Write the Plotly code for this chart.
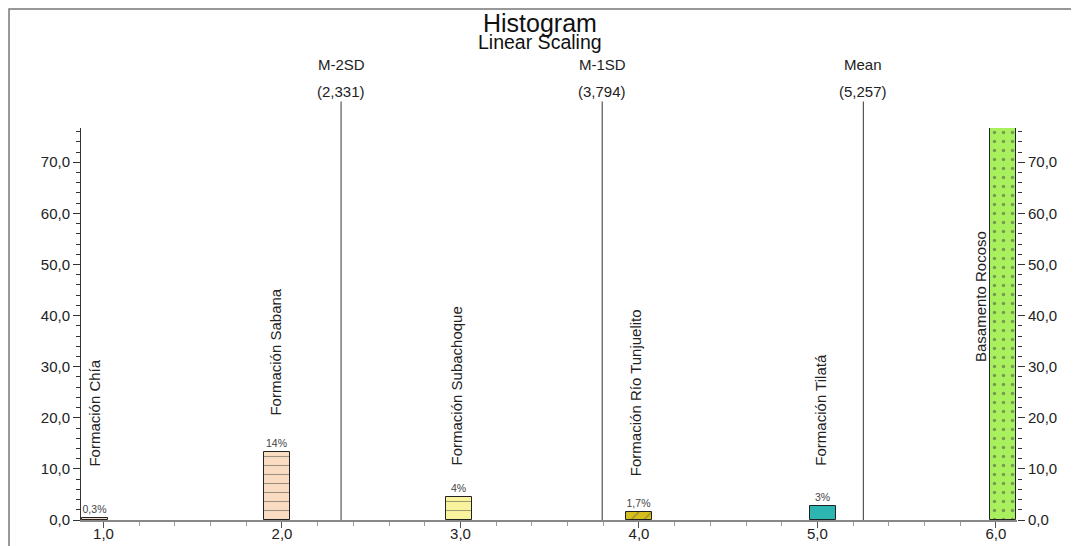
import plotly.graph_objects as go

# ---- data ----
bin_centers = [0.95, 1.97, 2.99, 4.0, 5.03, 6.04]
percent_values = [0.3, 13.3, 4.5, 1.5, 2.8, 77.2]
percent_labels = ["0,3%", "14%", "4%", "1,7%", "3%", "77%"]
unit_names = ["Formación Chía", "Formación Sabana", "Formación Subachoque",
              "Formación Río Tunjuelito", "Formación Tilatá", "Basamento Rocoso"]
stat_names = ["M-2SD", "M-1SD", "Mean"]
stat_values = [2.331, 3.794, 5.257]
stat_labels = ["(2,331)", "(3,794)", "(5,257)"]

# ---- styles ----
bar_colors = ["#F2D8C0", "#F9DCC2", "#FAF39E", "#D6BE1C", "#2DB5B2", "#A9F05E"]
bar_patterns = ["", "-", "-", "/", "", "."]
name_pos_x = [0.952, 1.965, 2.98, 3.98, 5.02, 5.91]
name_pos_y = [21.0, 32.9, 26.3, 24.9, 21.6, 43.8]

FONT = "Liberation Sans, Arial, sans-serif"

fig = go.Figure()
fig.add_trace(go.Bar(
    x=bin_centers, y=percent_values, width=0.146,
    marker=dict(color=bar_colors, line=dict(color="#222222", width=1),
                pattern=dict(shape=bar_patterns, fgcolor="#222222", size=9, solidity=0.12)),
    text=percent_labels, textposition="outside",
    textfont=dict(size=10.5, color="#444444", family=FONT),
    cliponaxis=False, showlegend=False,
))
# invisible trace for right axis
fig.add_trace(go.Scatter(x=[bin_centers[0]], y=[0], yaxis="y2", mode="markers",
                         marker=dict(opacity=0), showlegend=False, hoverinfo="skip"))

shapes = []
annotations = []
for name, val, lab in zip(stat_names, stat_values, stat_labels):
    shapes.append(dict(type="line", xref="x", yref="paper", x0=val, x1=val,
                       y0=0, y1=1.084, line=dict(color="#333333", width=1)))
    annotations.append(dict(x=val, y=1.1614, xref="x", yref="paper", text=name,
                            xanchor="center", yanchor="middle",
                            showarrow=False, font=dict(size=15, color="#222222", family=FONT)))
    annotations.append(dict(x=val, y=1.0925, xref="x", yref="paper", text=lab,
                            xanchor="center", yanchor="middle", bgcolor="white",
                            showarrow=False, font=dict(size=15, color="#222222", family=FONT)))

for nm, px, py in zip(unit_names, name_pos_x, name_pos_y):
    annotations.append(dict(x=px, y=py, xref="x", yref="y", text=nm, textangle=-90,
                            xanchor="center", yanchor="middle",
                            showarrow=False, font=dict(size=15, color="#222222", family=FONT)))

annotations.append(dict(x=0.49, y=1.2685, xref="paper", yref="paper", text="Histogram",
                        xanchor="center", yanchor="middle",
                        showarrow=False, font=dict(size=25, color="#111111", family=FONT)))
annotations.append(dict(x=0.49, y=1.219, xref="paper", yref="paper", text="Linear Scaling",
                        xanchor="center", yanchor="middle",
                        showarrow=False, font=dict(size=19.5, color="#111111", family=FONT)))

# outer frame
shapes.append(dict(type="rect", xref="paper", yref="paper", x0=-0.0769, x1=1.08,
                   y0=-0.1, y1=1.3035, line=dict(color="#777777", width=1.5)))

# page body has an 8px margin; figure is sized/margined so the plot area lands at
# x 81..1017, y 128..520 in the browser window
fig.update_layout(
    width=1071, height=538,
    margin=dict(l=73, r=62, t=120, b=26, autoexpand=False),
    paper_bgcolor="white", plot_bgcolor="white",
    separators=",.",
    font=dict(family=FONT, color="#222222"),
    bargap=0,
    shapes=shapes, annotations=annotations,
    xaxis=dict(range=[0.874, 6.118], tickvals=[1, 2, 3, 4, 5, 6], tickformat=".1f",
               automargin=False, ticklabelstandoff=-7,
               showgrid=False, zeroline=False, showline=True, linecolor="#888888", linewidth=1.5,
               ticks="outside", ticklen=6, tickcolor="#555555",
               minor=dict(dtick=0.2, ticks="outside", ticklen=4, tickcolor="#999999"),
               tickfont=dict(size=15, color="#222222")),
    yaxis=dict(range=[0, 76.7], tickvals=[0, 10, 20, 30, 40, 50, 60, 70], tickformat=".1f",
               automargin=False,
               showgrid=False, zeroline=False, showline=True, linecolor="#333333", linewidth=1,
               ticks="outside", ticklen=7, tickcolor="#333333",
               minor=dict(dtick=2, ticks="outside", ticklen=4, tickcolor="#333333"),
               tickfont=dict(size=15, color="#222222")),
    yaxis2=dict(range=[0, 76.7], overlaying="y", side="right", matches="y",
                automargin=False,
                tickvals=[0, 10, 20, 30, 40, 50, 60, 70], tickformat=".1f",
                showgrid=False, zeroline=False, showline=False,
                ticks="outside", ticklen=7, tickcolor="#333333",
                minor=dict(dtick=2, ticks="outside", ticklen=4, tickcolor="#333333"),
                tickfont=dict(size=15, color="#222222")),
)

fig.write_html("out.html")
